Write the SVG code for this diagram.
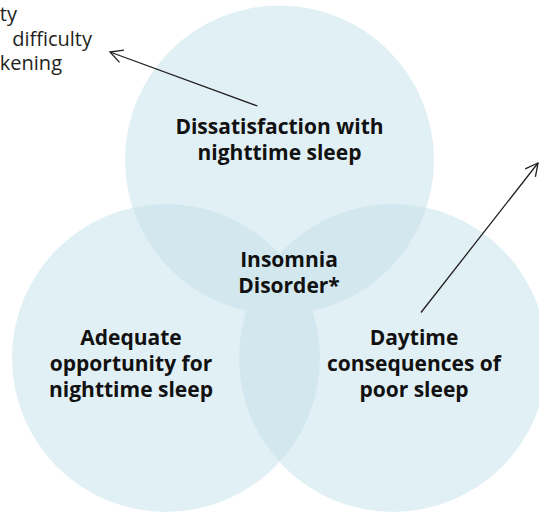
<svg xmlns="http://www.w3.org/2000/svg" width="539" height="512" viewBox="0 0 539 512">
  <style>
    .disc { fill: #e1f0f5; }
    .overlap { fill: #d3e8ee; }
    .label { font-family: "Open Sans", "Liberation Sans", sans-serif; font-weight: 700; font-size: 21px; fill: #111111; text-anchor: middle; }
    .note { font-family: "Open Sans", "Liberation Sans", sans-serif; font-size: 20px; fill: #231f20; text-anchor: end; }
    .pointer { fill: none; stroke: #231f20; stroke-width: 1.3; }
  </style>
  <defs>
    <circle id="c-top" cx="279.5" cy="160" r="154.5"/>
    <circle id="c-left" cx="166" cy="358" r="154"/>
    <circle id="c-right" cx="393" cy="358" r="154"/>
    <clipPath id="clip-top"><use href="#c-top"/></clipPath>
    <clipPath id="clip-left"><use href="#c-left"/></clipPath>
    <marker id="open-arrow" markerUnits="userSpaceOnUse" markerWidth="20" markerHeight="20" refX="0" refY="0" viewBox="-14 -10 16 20" orient="auto" overflow="visible">
      <path d="M -12.5 -6.5 L 0 0 L -12.5 6.5" fill="none" stroke="#231f20" stroke-width="1.3"/>
    </marker>
  </defs>

  <!-- three sets -->
  <g id="circles">
    <use href="#c-top" class="disc"/>
    <use href="#c-left" class="disc"/>
    <use href="#c-right" class="disc"/>
    <!-- pairwise overlaps share one tint -->
    <use href="#c-left" class="overlap" clip-path="url(#clip-top)"/>
    <use href="#c-right" class="overlap" clip-path="url(#clip-top)"/>
    <use href="#c-right" class="overlap" clip-path="url(#clip-left)"/>
  </g>

  <g id="connectors">
    <line class="pointer" x1="257.5" y1="106" x2="110" y2="52" marker-end="url(#open-arrow)"/>
    <line class="pointer" x1="421" y1="312.5" x2="538" y2="163" marker-end="url(#open-arrow)"/>
  </g>

  <g id="node-dissatisfaction">
    <text class="label" x="279.5" y="134">Dissatisfaction with</text>
    <text class="label" x="279.5" y="160">nighttime sleep</text>
  </g>

  <g id="node-insomnia">
    <text class="label" x="289" y="267">Insomnia</text>
    <text class="label" x="289" y="293">Disorder*</text>
  </g>

  <g id="node-opportunity">
    <text class="label" x="131" y="345">Adequate</text>
    <text class="label" x="131" y="371">opportunity for</text>
    <text class="label" x="131" y="397">nighttime sleep</text>
  </g>

  <g id="node-daytime">
    <text class="label" x="414" y="345">Daytime</text>
    <text class="label" x="414" y="371">consequences of</text>
    <text class="label" x="414" y="397">poor sleep</text>
  </g>

  <g id="note-left">
    <text class="note" x="17" y="21">ty</text>
    <text class="note" x="92" y="46">difficulty</text>
    <text class="note" x="62" y="70">kening</text>
  </g>
</svg>
